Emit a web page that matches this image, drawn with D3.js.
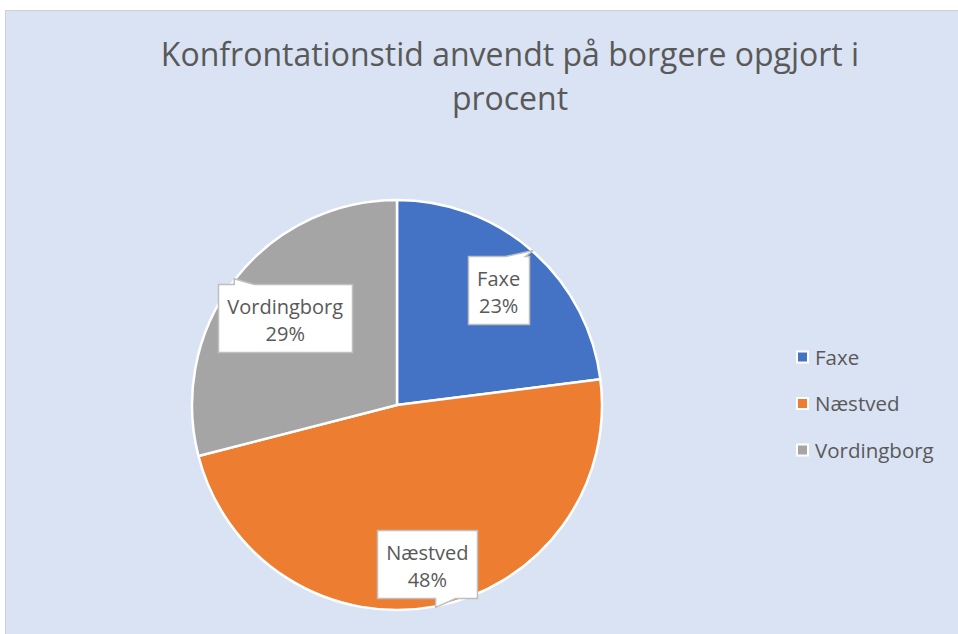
<!DOCTYPE html>
<html>
<head>
<meta charset="utf-8">
<script src="https://cdn.jsdelivr.net/npm/d3@7"></script>
<style>
	body { margin: 0; background: #fff; }
	svg { display: block; font-family: "Open Sans", sans-serif; }
</style>
</head>
<body>
<div id="chart"></div>
<script>

// data
// ----------------------------------------

var categories = ["Faxe", "Næstved", "Vordingborg"];
var shares = [23, 48, 29];
var colors = ["#4472C4", "#ED7D31", "#A5A5A5"];
var title_lines = ["Konfrontationstid anvendt på borgere opgjort i", "procent"];

// main variables
// ----------------------------------------

var width = 958,
	height = 634;

var cx = 397,
	cy = 405,
	radius = 205;

var label_dist = [0.75, 0.79, 0.69]; // how far in the callouts sit

var svg = d3.select("#chart")
	.append("svg")
	.attr("width", width)
	.attr("height", height);

// chart area
svg.append("rect")
	.attr("x", 5.5)
	.attr("y", 10.5)
	.attr("width", width)
	.attr("height", height)
	.attr("fill", "#DAE3F3")
	.attr("stroke", "#D0D0D0")
	.attr("stroke-width", 1);

// title
var title = svg.append("g").attr("class", "title");
title.selectAll("text")
	.data(title_lines)
	.enter()
	.append("text")
	.attr("x", 510)
	.attr("y", function(d, i) { return 66 + i * 44; })
	.attr("text-anchor", "middle")
	.attr("font-size", 32)
	.attr("fill", "#595959")
	.text(function(d) { return d; });

// pie
// ----------------------------------------

var data = categories.map(function(c, i) {
	return { name: c, value: shares[i], color: colors[i], k: label_dist[i] };
});

var pie = d3.pie()
	.value(function(d) { return d.value; })
	.sort(null);

var arc = d3.arc()
	.innerRadius(0)
	.outerRadius(radius);

var arcs = pie(data);

var plot = svg.append("g")
	.attr("transform", "translate(" + cx + "," + cy + ")");

plot.selectAll("path.slice")
	.data(arcs)
	.enter()
	.append("path")
	.attr("class", "slice")
	.attr("d", arc)
	.attr("fill", function(d) { return d.data.color; })
	.attr("stroke", "#fff")
	.attr("stroke-width", 2.5)
	.attr("stroke-linejoin", "round");

// callouts
// ----------------------------------------

function callout_path(x0, y0, x1, y1, tx, ty) {
	var w = 20;
	var p = [];
	if (ty < y0) {
		var b = Math.max(x0 + 4, Math.min(tx, x1 - w - 4));
		p = [[x0, y0], [b, y0], [tx, ty], [b + w, y0], [x1, y0], [x1, y1], [x0, y1]];
	} else if (ty > y1) {
		var b = Math.max(x0 + 4, Math.min(tx, x1 - w - 4));
		p = [[x0, y0], [x1, y0], [x1, y1], [b + w, y1], [tx, ty], [b, y1], [x0, y1]];
	} else if (tx < x0) {
		var b = Math.max(y0 + 4, Math.min(ty, y1 - w - 4));
		p = [[x0, y0], [x1, y0], [x1, y1], [x0, y1], [x0, b + w], [tx, ty], [x0, b]];
	} else {
		var b = Math.max(y0 + 4, Math.min(ty, y1 - w - 4));
		p = [[x0, y0], [x1, y0], [x1, b], [tx, ty], [x1, b + w], [x1, y1], [x0, y1]];
	}
	return "M" + p.map(function(q) { return q.join(","); }).join("L") + "Z";
}

var labels = plot.selectAll("g.label")
	.data(arcs)
	.enter()
	.append("g")
	.attr("class", "label");

labels.each(function(d) {
	var g = d3.select(this);
	var mid = (d.startAngle + d.endAngle) / 2;
	var lx = Math.sin(mid) * radius * d.data.k,
		ly = -Math.cos(mid) * radius * d.data.k;
	var tx = Math.sin(mid) * (radius + 1),
		ty = -Math.cos(mid) * (radius + 1);

	var box = g.append("path");

	var t1 = g.append("text")
		.attr("x", lx)
		.attr("y", ly - 4)
		.attr("text-anchor", "middle")
		.attr("font-size", 20)
		.attr("fill", "#595959")
		.text(d.data.name);
	var t2 = g.append("text")
		.attr("x", lx)
		.attr("y", ly + 23)
		.attr("text-anchor", "middle")
		.attr("font-size", 20)
		.attr("fill", "#595959")
		.text(d.data.value + "%");

	var tw = Math.max(t1.node().getComputedTextLength(), t2.node().getComputedTextLength());
	var bw = Math.round(tw + 18),
		bh = 68;
	var x0 = Math.round(lx - bw / 2) + 0.5,
		y0 = Math.round(ly - bh / 2) + 0.5;

	box.attr("d", callout_path(x0, y0, x0 + bw, y0 + bh, tx, ty))
		.attr("fill", "#fff")
		.attr("stroke", "#BFBFBF")
		.attr("stroke-width", 1.5);
});

// legend
// ----------------------------------------

var legend = svg.append("g")
	.attr("class", "legend")
	.selectAll("g")
	.data(data)
	.enter()
	.append("g")
	.attr("transform", function(d, i) { return "translate(797," + (357 + i * 46.5) + ")"; });

legend.append("rect")
	.attr("x", 0)
	.attr("y", -5.5)
	.attr("width", 11)
	.attr("height", 11)
	.attr("fill", function(d) { return d.color; })
	.attr("stroke", "#fff")
	.attr("stroke-width", 2);

legend.append("text")
	.attr("x", 18)
	.attr("y", 7.5)
	.attr("font-size", 20.5)
	.attr("fill", "#595959")
	.text(function(d) { return d.name; });

</script>
</body>
</html>
